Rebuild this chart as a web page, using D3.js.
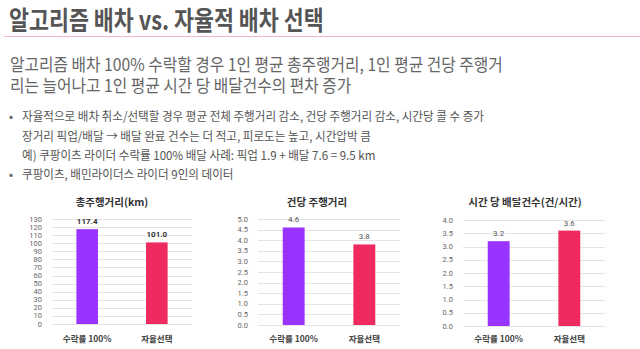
<!DOCTYPE html>
<html><head><meta charset="utf-8">
<script src="https://cdn.jsdelivr.net/npm/d3@7"></script>
<style>
html,body{margin:0;padding:0;background:#fff;}
svg{display:block;font-family:"Noto Sans CJK KR","Noto Sans",sans-serif;}
</style></head>
<body><svg id="c" width="640" height="349"></svg>
<script>
const titleText = "알고리즘 배차 vs. 자율적 배차 선택";
const subtitleLines = ["알고리즘 배차 100% 수락할 경우 1인 평균 총주행거리, 1인 평균 건당 주행거", "리는 늘어나고 1인 평균 시간 당 배달건수의 편차 증가"];
const bulletLines = [
  {b:true, t:"자율적으로 배차 취소/선택할 경우 평균 전체 주행거리 감소, 건당 주행거리 감소, 시간당 콜 수 증가"},
  {b:false, t:"장거리 픽업/배달 → 배달 완료 건수는 더 적고, 피로도는 높고, 시간압박 큼"},
  {b:false, t:"예) 쿠팡이츠 라이더 수락률 100% 배달 사례: 픽업 1.9 + 배달 7.6 = 9.5 km"},
  {b:true, t:"쿠팡이츠, 배민라이더스 라이더 9인의 데이터"}
];
const categories = ["수락률 100%", "자율선택"];
const chartTitles = ["총주행거리(km)", "건당 주행거리", "시간 당 배달건수(건/시간)"];
const totalDistance = [117.4, 101.0];
const perDeliveryDistance = [4.6, 3.8];
const deliveriesPerHour = [3.2, 3.6];
const yMax = [130, 5, 4];
const yStep = [10, 0.5, 0.5];
const valueFormats = [".1f", ".1f", ".1f"];
const colors = ["#9933ff", "#ee2a5e"];

const svg = d3.select("#c");
function squeeze(sel, f) {
  sel.each(function () {
    const w = this.getComputedTextLength();
    d3.select(this).attr("textLength", w * f).attr("lengthAdjust", "spacingAndGlyphs");
  });
}
svg.append("text").attr("x", 9).attr("y", 30).attr("font-size", 26).attr("font-weight", 700)
  .attr("fill", "#555").text(titleText).call(squeeze, 0.835);
svg.append("line").attr("x1", 4).attr("x2", 640).attr("y1", 36.5).attr("y2", 36.5)
  .attr("stroke", "#f2b6c6").attr("stroke-width", 1.2);
subtitleLines.forEach((s, i) => {
  svg.append("text").attr("x", 10).attr("y", 71 + i * 20.5).attr("font-size", 17.5)
    .attr("fill", "#666").text(s).call(squeeze, 0.9);
});
const by = [121, 140.5, 160, 179];
bulletLines.forEach((l, i) => {
  if (l.b) svg.append("text").attr("x", 9).attr("y", by[i]).attr("font-size", 12).attr("fill", "#666").text("•");
  svg.append("text").attr("x", 22).attr("y", by[i]).attr("font-size", 12.3).attr("fill", "#555")
    .text(l.t).call(squeeze, 0.94);
});

const panels = [
  {data: totalDistance, gx0: 52, gx1: 192, y0: 324, y1: 219, labX: 42, titleX: 112},
  {data: perDeliveryDistance, gx0: 258, gx1: 400, y0: 325, y1: 219, labX: 248, titleX: 317},
  {data: deliveriesPerHour, gx0: 463, gx1: 605, y0: 326, y1: 220, labX: 453, titleX: 525}
];
panels.forEach((p, k) => {
  const g = svg.append("g");
  const y = d3.scaleLinear().domain([0, yMax[k]]).range([p.y0, p.y1]);
  const x = d3.scaleBand().domain(categories).range([p.gx0, p.gx1]).paddingInner(0.69).paddingOuter(0.35);
  const ticks = d3.range(0, yMax[k] + yStep[k] / 2, yStep[k]);
  const fmt = k === 0 ? d3.format("d") : d3.format(".1f");
  g.selectAll("line.grid").data(ticks).join("line")
    .attr("x1", p.gx0).attr("x2", p.gx1)
    .attr("y1", d => Math.round(y(d)) + 0.5).attr("y2", d => Math.round(y(d)) + 0.5)
    .attr("stroke", "#e4e4e4").attr("stroke-width", 1);
  g.selectAll("text.tick").data(ticks).join("text")
    .attr("x", p.labX).attr("y", d => y(d) + 2.5).attr("text-anchor", "end")
    .attr("font-size", 7.5).attr("fill", "#666").attr("font-family", "Roboto, sans-serif").text(fmt);
  g.selectAll("rect").data(p.data).join("rect")
    .attr("x", (d, i) => x(categories[i])).attr("width", x.bandwidth())
    .attr("y", d => y(d)).attr("height", d => y(0) - y(d))
    .attr("fill", (d, i) => colors[i]);
  g.selectAll("text.val").data(p.data).join("text")
    .attr("x", (d, i) => x(categories[i]) + x.bandwidth() / 2).attr("y", d => y(d) - 5)
    .attr("text-anchor", "middle").attr("font-size", 8)
    .attr("font-weight", k === 0 ? 700 : 400).attr("fill", k === 0 ? "#333" : "#555")
    .attr("font-family", "Roboto, sans-serif")
    .text(d => d3.format(valueFormats[k])(d));
  g.selectAll("text.cat").data(categories).join("text")
    .attr("x", d => x(d) + x.bandwidth() / 2).attr("y", 342).attr("text-anchor", "middle")
    .attr("font-size", 8.5).attr("font-weight", 700).attr("fill", "#444").text(d => d);
  g.append("text").attr("x", p.titleX).attr("y", 206).attr("text-anchor", "middle")
    .attr("font-size", 10.5).attr("font-weight", 700).attr("fill", "#333").text(chartTitles[k]);
});
</script></body></html>
